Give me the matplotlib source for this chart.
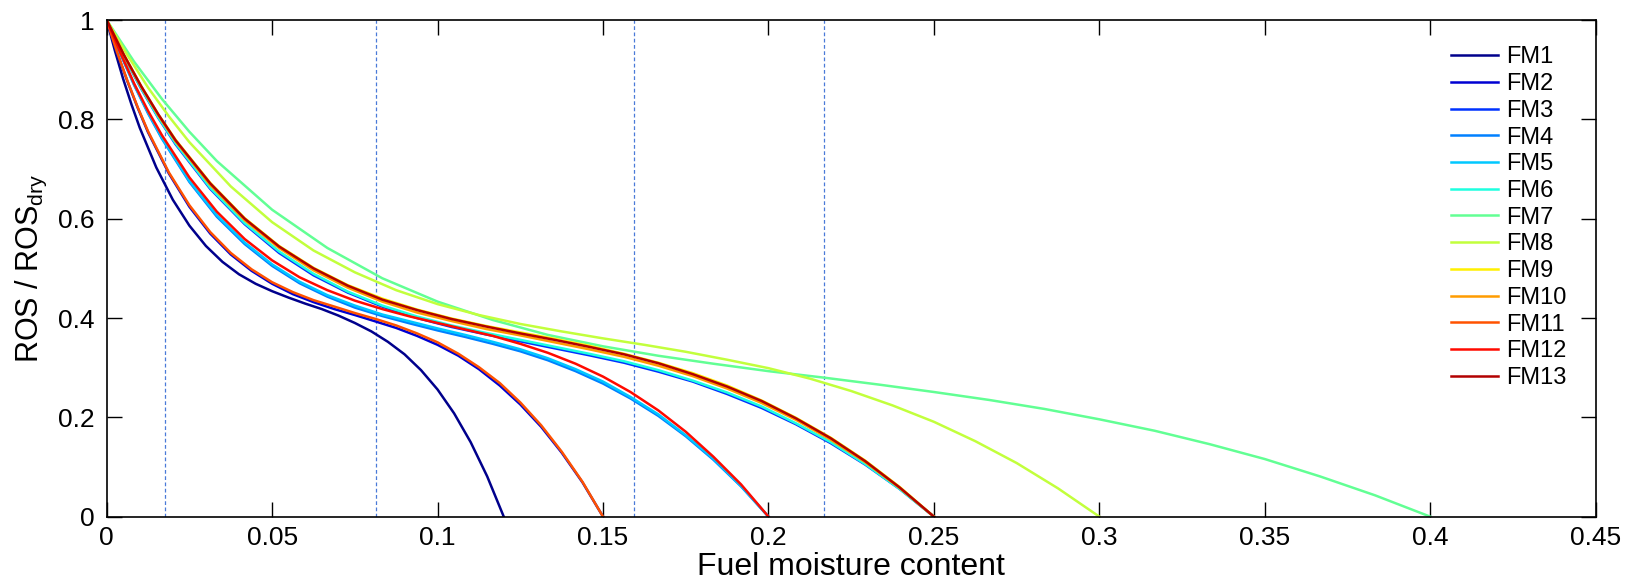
import matplotlib
matplotlib.use('Agg')
import matplotlib.pyplot as plt
from matplotlib.ticker import FuncFormatter

# moisture grids (one per extinction moisture) and ROS/ROS_dry
x_012 = [0, 0.0025, 0.005, 0.0075, 0.01, 0.015, 0.02, 0.025, 0.03, 0.035, 0.04, 0.045, 0.05, 0.055,
         0.06, 0.065, 0.07, 0.075, 0.08, 0.085, 0.09, 0.095, 0.10, 0.105, 0.11, 0.115, 0.12]
x_015 = [0, 0.0031, 0.0063, 0.0094, 0.0125, 0.0188, 0.025, 0.0313, 0.0375, 0.0438, 0.05, 0.0563, 0.0625, 0.0688,
         0.075, 0.0813, 0.0875, 0.0938, 0.1, 0.1063, 0.1125, 0.1188, 0.125, 0.1313, 0.1375, 0.1438, 0.15]
x_020 = [0, 0.0042, 0.0083, 0.0125, 0.0167, 0.025, 0.0333, 0.0417, 0.05, 0.0583, 0.0667, 0.075, 0.0833, 0.0917,
         0.1, 0.1083, 0.1167, 0.125, 0.1333, 0.1417, 0.15, 0.1583, 0.1667, 0.175, 0.1833, 0.1917, 0.2]
x_025 = [0, 0.0052, 0.0104, 0.0156, 0.0208, 0.0313, 0.0417, 0.0521, 0.0625, 0.0729, 0.0833, 0.0938, 0.1042, 0.1146,
         0.125, 0.1354, 0.1458, 0.1563, 0.1667, 0.1771, 0.1875, 0.1979, 0.2083, 0.2188, 0.2292, 0.2396, 0.25]
x_030 = [0, 0.0063, 0.0125, 0.0188, 0.025, 0.0375, 0.05, 0.0625, 0.075, 0.0875, 0.1, 0.1125, 0.125, 0.1375,
         0.15, 0.1625, 0.175, 0.1875, 0.2, 0.2125, 0.225, 0.2375, 0.25, 0.2625, 0.275, 0.2875, 0.3]
x_040 = [0, 0.0083, 0.0167, 0.025, 0.0333, 0.05, 0.0667, 0.0833, 0.1, 0.1167, 0.1333, 0.15, 0.1667, 0.1833,
         0.2, 0.2167, 0.2333, 0.25, 0.2667, 0.2833, 0.3, 0.3167, 0.3333, 0.35, 0.3667, 0.3833, 0.4]

fm1 = [1, 0.938, 0.881, 0.830, 0.783, 0.703, 0.638, 0.586, 0.545, 0.513, 0.488, 0.469, 0.454, 0.441,
       0.429, 0.418, 0.405, 0.390, 0.373, 0.352, 0.327, 0.295, 0.256, 0.208, 0.150, 0.081, 0]
fm2 = [1, 0.935, 0.876, 0.823, 0.774, 0.691, 0.624, 0.570, 0.528, 0.495, 0.469, 0.448, 0.432, 0.418,
       0.406, 0.393, 0.380, 0.364, 0.346, 0.324, 0.297, 0.264, 0.226, 0.181, 0.129, 0.069, 0]
fm3 = [1, 0.927, 0.862, 0.803, 0.750, 0.660, 0.589, 0.531, 0.486, 0.451, 0.423, 0.400, 0.382, 0.367,
       0.353, 0.339, 0.325, 0.310, 0.292, 0.272, 0.247, 0.219, 0.186, 0.148, 0.105, 0.056, 0]
fm4 = [1, 0.931, 0.869, 0.812, 0.761, 0.674, 0.604, 0.549, 0.505, 0.470, 0.443, 0.421, 0.404, 0.389,
       0.375, 0.362, 0.348, 0.333, 0.315, 0.293, 0.268, 0.238, 0.203, 0.162, 0.115, 0.061, 0]
fm5 = [1, 0.932, 0.870, 0.814, 0.763, 0.676, 0.607, 0.552, 0.508, 0.473, 0.446, 0.425, 0.407, 0.393,
       0.379, 0.366, 0.352, 0.337, 0.319, 0.297, 0.272, 0.241, 0.206, 0.164, 0.117, 0.062, 0]
fm6 = [1, 0.928, 0.863, 0.804, 0.752, 0.662, 0.591, 0.534, 0.489, 0.453, 0.425, 0.403, 0.385, 0.370,
       0.356, 0.342, 0.328, 0.313, 0.295, 0.274, 0.250, 0.222, 0.188, 0.150, 0.106, 0.056, 0]
fm7 = [1, 0.916, 0.841, 0.775, 0.716, 0.618, 0.541, 0.480, 0.433, 0.396, 0.366, 0.343, 0.324, 0.308,
       0.293, 0.280, 0.266, 0.251, 0.235, 0.217, 0.196, 0.173, 0.146, 0.116, 0.081, 0.043, 0]
fm8 = [1, 0.929, 0.864, 0.806, 0.754, 0.665, 0.593, 0.536, 0.492, 0.456, 0.428, 0.406, 0.388, 0.373,
       0.359, 0.346, 0.332, 0.316, 0.299, 0.278, 0.253, 0.224, 0.191, 0.152, 0.108, 0.057, 0]
fm9 = [1, 0.930, 0.867, 0.810, 0.759, 0.672, 0.601, 0.545, 0.501, 0.466, 0.439, 0.417, 0.399, 0.384,
       0.371, 0.358, 0.344, 0.328, 0.310, 0.289, 0.264, 0.234, 0.199, 0.159, 0.113, 0.060, 0]
fm10 = [1, 0.929, 0.866, 0.808, 0.756, 0.668, 0.597, 0.541, 0.496, 0.461, 0.433, 0.411, 0.394, 0.378,
        0.365, 0.351, 0.337, 0.322, 0.304, 0.283, 0.258, 0.229, 0.195, 0.155, 0.110, 0.058, 0]
fm11 = [1, 0.936, 0.877, 0.824, 0.776, 0.693, 0.627, 0.573, 0.531, 0.498, 0.472, 0.452, 0.436, 0.423,
        0.410, 0.398, 0.385, 0.369, 0.351, 0.328, 0.301, 0.269, 0.230, 0.184, 0.131, 0.070, 0]
fm12 = [1, 0.933, 0.872, 0.817, 0.768, 0.683, 0.614, 0.559, 0.516, 0.482, 0.456, 0.435, 0.418, 0.403,
        0.390, 0.377, 0.364, 0.348, 0.330, 0.308, 0.282, 0.251, 0.214, 0.171, 0.121, 0.065, 0]
fm13 = [1, 0.930, 0.867, 0.810, 0.758, 0.671, 0.600, 0.544, 0.500, 0.465, 0.437, 0.416, 0.398, 0.383,
        0.369, 0.356, 0.342, 0.327, 0.309, 0.287, 0.262, 0.233, 0.198, 0.158, 0.112, 0.059, 0]

labels = ['FM%d' % i for i in range(1, 14)]
xs = [x_012, x_015, x_025, x_020, x_020, x_025, x_040, x_030, x_025, x_025, x_015, x_020, x_025]
ys = [fm1, fm2, fm3, fm4, fm5, fm6, fm7, fm8, fm9, fm10, fm11, fm12, fm13]
colors = ['#00008c', '#0000d2', '#0032ff', '#0080ff', '#00c8ff', '#1effe0', '#62ff94', '#c2ff3c',
          '#fff000', '#ff9c00', '#ff5200', '#ff0a00', '#b20000']

# moisture values marked with dashed lines
vlines_x = [0.0175, 0.0815, 0.1595, 0.2167]

plt.rcParams['font.family'] = ['Liberation Sans', 'DejaVu Sans']
plt.rcParams['mathtext.fontset'] = 'custom'
plt.rcParams['mathtext.rm'] = 'Liberation Sans'
plt.rcParams['mathtext.it'] = 'Liberation Sans'

fig = plt.figure(figsize=(16.36, 5.85), dpi=100)
ax = fig.add_axes([0.0652, 0.1168, 0.9102, 0.849])

for xv in vlines_x:
    ax.axvline(xv, color='#4a7ad8', lw=0.9, ls=(0, (3, 2)), zorder=1)

for x, y, c, lab in zip(xs, ys, colors, labels):
    ax.plot(x, y, color=c, lw=1.8, label=lab, zorder=2, solid_joinstyle='round')

ax.set_xlim(0, 0.45)
ax.set_ylim(0, 1)
ax.set_xticks([0, 0.05, 0.1, 0.15, 0.2, 0.25, 0.3, 0.35, 0.4, 0.45])
ax.set_yticks([0, 0.2, 0.4, 0.6, 0.8, 1])
ax.xaxis.set_major_formatter(FuncFormatter(lambda v, p: '%g' % round(v, 3)))
ax.yaxis.set_major_formatter(FuncFormatter(lambda v, p: '%g' % round(v, 3)))
ax.tick_params(direction='in', length=11, width=1.0, top=True, right=True, labelsize=19)
ax.tick_params(axis='x', pad=7)
ax.tick_params(axis='y', pad=9)
for s in ax.spines.values():
    s.set_linewidth(1.2)

ax.set_xlabel('Fuel moisture content', fontsize=23, labelpad=1)
ax.set_ylabel('ROS / ROS$_{\\mathrm{dry}}$', fontsize=22, labelpad=6)

ax.legend(loc='upper right', bbox_to_anchor=(0.987, 0.966), frameon=False, fontsize=17,
          handlelength=2.0, handletextpad=0.35, labelspacing=0.2, borderaxespad=0)

fig.savefig('out.png', dpi=100)
